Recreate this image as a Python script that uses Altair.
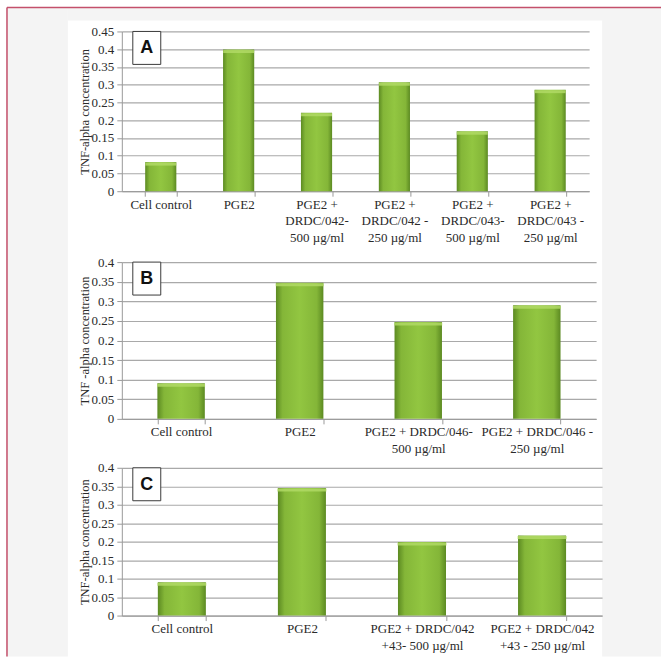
import altair as alt
import pandas as pd

# ---- data -------------------------------------------------------------
cats_a = [
    "Cell control",
    "PGE2",
    "PGE2 +\nDRDC/042-\n500 µg/ml",
    "PGE2 +\nDRDC/042 -\n250  µg/ml",
    "PGE2 +\nDRDC/043-\n500 µg/ml",
    "PGE2 +\nDRDC/043 -\n250  µg/ml",
]
vals_a = [0.082, 0.399, 0.221, 0.307, 0.169, 0.286]

cats_b = [
    "Cell control",
    "PGE2",
    "PGE2 + DRDC/046-\n500 µg/ml",
    "PGE2 + DRDC/046 -\n250  µg/ml",
]
vals_b = [0.091, 0.347, 0.247, 0.290]

cats_c = [
    "Cell control",
    "PGE2",
    "PGE2 + DRDC/042\n+43- 500 µg/ml",
    "PGE2 + DRDC/042\n+43 - 250  µg/ml",
]
vals_c = [0.090, 0.345, 0.199, 0.217]

ticks_a = [0, 0.05, 0.1, 0.15, 0.2, 0.25, 0.3, 0.35, 0.4, 0.45]
ticks_bc = [0, 0.05, 0.1, 0.15, 0.2, 0.25, 0.3, 0.35, 0.4]

ytitle_a = "TNF-alpha concentration"
ytitle_b = "TNF -alpha concentration"
ytitle_c = "TNF-alpha concentration"

# ---- styling ----------------------------------------------------------
SERIF = "Liberation Serif"
SANS = "Liberation Sans"
GRID = "#a9a9a9"
AXIS = "#9a9a9a"
TEXT = "#2a2a2a"
GAP = 49  # vertical gap between plot areas

bar_fill = alt.LinearGradient(
    gradient="linear",
    x1=0, x2=1, y1=0, y2=0,
    stops=[
        alt.GradientStop(color="#5c8a22", offset=0),
        alt.GradientStop(color="#84b638", offset=0.14),
        alt.GradientStop(color="#92c641", offset=0.5),
        alt.GradientStop(color="#84b638", offset=0.86),
        alt.GradientStop(color="#5c8a22", offset=1),
    ],
)


def panel(cats, vals, ticks, letter, ytitle, width, height, bar_w, extra=0):
    """Bar panel; `extra` adds blank room below the x axis labels."""
    df = pd.DataFrame({"group": cats, "value": vals})
    x = alt.X(
        "group:N",
        sort=cats,
        scale=alt.Scale(paddingInner=0.6, paddingOuter=0.3),
        axis=alt.Axis(
            title=None,
            labelAngle=0,
            labelExpr="split(datum.label, '\\n')",
            labelFont=SERIF,
            labelFontSize=13,
            labelColor=TEXT,
            labelLineHeight=16.5,
            labelLimit=220,
            labelPadding=2,
            labelBaseline="top",
            labelOverlap=False,
            tickBand="extent",
            tickSize=5,
            tickColor=AXIS,
            domainColor=AXIS,
            grid=False,
            offset=-extra,
        ),
    )
    y = alt.Y(
        "value:Q",
        scale=alt.Scale(domain=[0, ticks[-1]], nice=False, zero=True,
                        range=[height, 0]),
        axis=alt.Axis(
            values=ticks,
            tickCount=len(ticks),
            format="~g",
            title=ytitle,
            titleFont=SERIF,
            titleFontSize=12.5,
            titleFontWeight="normal",
            titleColor=TEXT,
            titleX=-37,
            titleY=height / 2,
            titleAlign="center",
            titleBaseline="middle",
            labelFont=SERIF,
            labelFontSize=13,
            labelColor=TEXT,
            labelPadding=3,
            labelOverlap=False,
            tickSize=5,
            tickColor=AXIS,
            domainColor=AXIS,
            gridColor=GRID,
            gridWidth=1.2,
        ),
    )
    bars = alt.Chart(df).mark_bar(color=bar_fill).encode(x=x, y=y)
    shine = (
        alt.Chart(df)
        .mark_tick(color="#b0d965", thickness=3, size=bar_w, yOffset=2, opacity=0.85)
        .encode(x=x, y=y)
    )
    tag = pd.DataFrame({"letter": [letter]})
    box = (
        alt.Chart(tag)
        .mark_rect(fill="white", stroke="#3a3a3a", strokeWidth=1)
        .encode(x=alt.value(11), x2=alt.value(39), y=alt.value(0), y2=alt.value(33))
    )
    label = (
        alt.Chart(tag)
        .mark_text(font=SANS, fontWeight="bold", fontSize=18, color="#111111",
                   align="center", baseline="middle")
        .encode(x=alt.value(25), y=alt.value(17), text="letter:N")
    )
    return [bars, shine, box, label], width, height + extra


layers_a, wa, ha = panel(cats_a, vals_a, ticks_a, "A", ytitle_a, 468, 160, 31, extra=22)
layers_b, wb, hb = panel(cats_b, vals_b, ticks_bc, "B", ytitle_b, 475, 157, 48)
layers_c, wc, hc = panel(cats_c, vals_c, ticks_bc, "C", ytitle_c, 481, 148, 49)

# page frame: light margins and the crimson rule along the top and left
one = pd.DataFrame({"k": [0]})
shade = "#f4f4f4"
margin_left = alt.Chart(one).mark_rect(fill=shade).encode(
    x=alt.value(-116), x2=alt.value(-54), y=alt.value(-24), y2=alt.value(626))
margin_right = alt.Chart(one).mark_rect(fill=shade).encode(
    x=alt.value(481), x2=alt.value(540), y=alt.value(-24), y2=alt.value(626))
margin_top = alt.Chart(one).mark_rect(fill=shade).encode(
    x=alt.value(-54), x2=alt.value(481), y=alt.value(-24), y2=alt.value(-11))
frame_top = alt.Chart(one).mark_rule(color="#c4506b", strokeWidth=1.5).encode(
    x=alt.value(-115), x2=alt.value(540), y=alt.value(-24))
frame_left = alt.Chart(one).mark_rule(color="#c4506b", strokeWidth=1.5).encode(
    x=alt.value(-115), y=alt.value(-24), y2=alt.value(626))

pa = alt.layer(margin_left, margin_right, margin_top, frame_top, frame_left,
               *layers_a).properties(width=wa, height=ha)
pb = alt.layer(*layers_b).properties(width=wb, height=hb)
pc = alt.layer(*layers_c).properties(width=wc, height=hc)

chart = (
    alt.vconcat(pa, pb, pc, spacing=GAP, bounds="flush")
    .properties(padding={"left": 6, "top": 6, "right": 0, "bottom": 0},
                background="white")
    .configure_view(stroke=None)
)

chart.save("out.html", embed_options={"renderer": "svg", "actions": False})
